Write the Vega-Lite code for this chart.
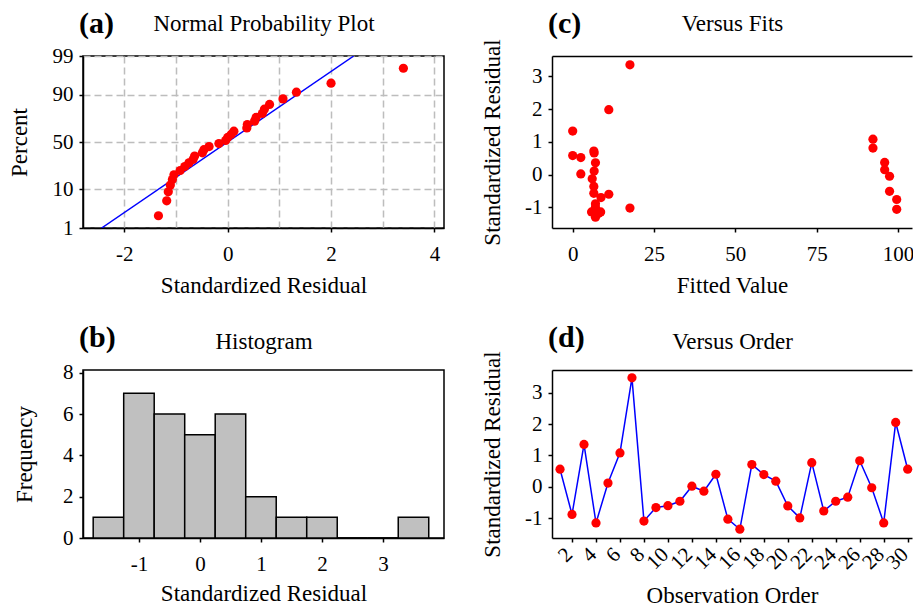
{
  "$schema": "https://vega.github.io/schema/vega-lite/v6.json",
  "padding": {"left": 7, "top": 8, "right": 0, "bottom": 0},
  "datasets": {
    "prob": [
      {"res": -1.34, "z": -1.9951}, {"res": -1.18, "z": -1.590}, {"res": -1.15, "z": -1.348},
      {"res": -1.11, "z": -1.1665}, {"res": -1.07, "z": -1.0169}, {"res": -1.04, "z": -0.8871},
      {"res": -0.92, "z": -0.7709}, {"res": -0.83, "z": -0.6642}, {"res": -0.75, "z": -0.5646},
      {"res": -0.67, "z": -0.4703}, {"res": -0.64, "z": -0.3800}, {"res": -0.49, "z": -0.2927},
      {"res": -0.46, "z": -0.2076}, {"res": -0.36, "z": -0.1240}, {"res": -0.17, "z": -0.0413},
      {"res": -0.04, "z": 0.0413}, {"res": 0.00, "z": 0.1240}, {"res": 0.07, "z": 0.2076},
      {"res": 0.12, "z": 0.2927}, {"res": 0.37, "z": 0.3800}, {"res": 0.38, "z": 0.4703},
      {"res": 0.52, "z": 0.5646}, {"res": 0.55, "z": 0.6642}, {"res": 0.67, "z": 0.7709},
      {"res": 0.71, "z": 0.8871}, {"res": 0.81, "z": 1.0169}, {"res": 1.07, "z": 1.1665},
      {"res": 1.33, "z": 1.348}, {"res": 2.00, "z": 1.590}, {"res": 3.40, "z": 1.9951}
    ],
    "probline": [{"res": -2.44, "z": -2.3263}, {"res": 2.44, "z": 2.3263}],
    "hist": [
      {"lo": -1.75, "hi": -1.25, "count": 1}, {"lo": -1.25, "hi": -0.75, "count": 7},
      {"lo": -0.75, "hi": -0.25, "count": 6}, {"lo": -0.25, "hi": 0.25, "count": 5},
      {"lo": 0.25, "hi": 0.75, "count": 6}, {"lo": 0.75, "hi": 1.25, "count": 2},
      {"lo": 1.25, "hi": 1.75, "count": 1}, {"lo": 1.75, "hi": 2.25, "count": 1},
      {"lo": 2.25, "hi": 2.75, "count": 0}, {"lo": 2.75, "hi": 3.25, "count": 0},
      {"lo": 3.25, "hi": 3.75, "count": 1}
    ],
    "fits": [
      {"fit": 0.0, "res": 1.33}, {"fit": 0.0, "res": 0.58}, {"fit": 2.5, "res": 0.52}, {"fit": 2.5, "res": 0.02},
      {"fit": 6.5, "res": 0.72}, {"fit": 6.6, "res": 0.66}, {"fit": 7.0, "res": 0.36}, {"fit": 6.6, "res": 0.11},
      {"fit": 6.0, "res": -0.13}, {"fit": 6.5, "res": -0.36}, {"fit": 6.5, "res": -0.57}, {"fit": 8.7, "res": -0.70},
      {"fit": 11.1, "res": -0.60}, {"fit": 11.1, "res": 1.98}, {"fit": 17.6, "res": 3.35}, {"fit": 17.6, "res": -1.02},
      {"fit": 7.0, "res": -0.89}, {"fit": 7.0, "res": -1.00}, {"fit": 5.8, "res": -1.14}, {"fit": 8.0, "res": -1.18},
      {"fit": 8.6, "res": -1.14}, {"fit": 7.0, "res": -1.30},
      {"fit": 92.3, "res": 1.08}, {"fit": 92.3, "res": 0.81}, {"fit": 95.9, "res": 0.37}, {"fit": 95.9, "res": 0.15},
      {"fit": 97.4, "res": -0.05}, {"fit": 97.4, "res": -0.51}, {"fit": 99.6, "res": -0.76}, {"fit": 99.6, "res": -1.06}
    ],
    "order": [
      {"obs": 1, "res": 0.56}, {"obs": 2, "res": -0.88}, {"obs": 3, "res": 1.35}, {"obs": 4, "res": -1.15},
      {"obs": 5, "res": 0.12}, {"obs": 6, "res": 1.08}, {"obs": 7, "res": 3.47}, {"obs": 8, "res": -1.09},
      {"obs": 9, "res": -0.66}, {"obs": 10, "res": -0.60}, {"obs": 11, "res": -0.46}, {"obs": 12, "res": 0.02},
      {"obs": 13, "res": -0.14}, {"obs": 14, "res": 0.40}, {"obs": 15, "res": -1.03}, {"obs": 16, "res": -1.35},
      {"obs": 17, "res": 0.71}, {"obs": 18, "res": 0.39}, {"obs": 19, "res": 0.18}, {"obs": 20, "res": -0.61},
      {"obs": 21, "res": -0.99}, {"obs": 22, "res": 0.77}, {"obs": 23, "res": -0.77}, {"obs": 24, "res": -0.46},
      {"obs": 25, "res": -0.33}, {"obs": 26, "res": 0.83}, {"obs": 27, "res": -0.03}, {"obs": 28, "res": -1.15},
      {"obs": 29, "res": 2.05}, {"obs": 30, "res": 0.56}
    ]
  },
  "columns": 2,
  "bounds": "flush",
  "spacing": {"row": 142, "column": 108},
  "concat": [
    {
      "width": 361, "height": 172,
      "title": {"text": "(a)", "dx": -4, "offset": -27},
      "encoding": {
        "y": {"field": "z", "type": "quantitative",
          "scale": {"domain": [-2.3263, 2.3263], "nice": false, "zero": false},
          "axis": {"title": "Percent", "values": [-2.3263, -1.2816, 0, 1.2816, 2.3263],
            "labelExpr": "datum.value > 2 ? '99' : datum.value > 1 ? '90' : datum.value > -1 ? '50' : datum.value > -2 ? '10' : '1'",
            "grid": true, "gridDash": [7, 4], "gridColor": "#BDBDBD", "gridWidth": 1.5, "titlePadding": 21}}
      },
      "layer": [
        {"data": {"name": "probline"},
          "mark": {"type": "line", "color": "#0000FF", "strokeWidth": 1.5, "clip": true},
          "encoding": {"x": {"field": "res", "type": "quantitative",
            "scale": {"domain": [-2.8, 4.186], "nice": false, "zero": false},
            "axis": {"orient": "top", "title": "Normal Probability Plot", "labels": false, "ticks": false, "domain": false,
              "grid": true, "values": [-2, -1, 0, 1, 2, 3, 4], "gridDash": [7, 4], "gridColor": "#BDBDBD", "gridWidth": 1.5, "titlePadding": 21}}}},
        {"data": {"name": "prob"},
          "mark": {"type": "circle", "color": "#FF0000", "size": 85, "opacity": 1},
          "encoding": {"x": {"field": "res", "type": "quantitative",
            "scale": {"domain": [-2.8, 4.186], "nice": false, "zero": false},
            "axis": {"orient": "bottom", "title": "Standardized Residual", "values": [-2, 0, 2, 4], "labelPadding": 11, "titlePadding": 10,
              "labelExpr": "replace(datum.label, '−', '-')"}}}}
      ],
      "resolve": {"axis": {"x": "independent"}}
    },
    {
      "width": 360, "height": 172,
      "view": {"stroke": null},
      "title": {"text": "(c)", "dx": -4, "offset": -27},
      "encoding": {
        "y": {"field": "res", "type": "quantitative",
          "scale": {"domain": [-1.63, 3.62], "nice": false, "zero": false},
          "axis": {"title": "Standardized Residual", "values": [-1, 0, 1, 2, 3], "titlePadding": 20,
            "labelExpr": "replace(datum.label, '−', '-')"}}
      },
      "layer": [
        {"data": {"values": [{}]}, "mark": {"type": "rule", "color": "#333333", "strokeWidth": 1.5}, "encoding": {"y": {"datum": 0}}},
        {"data": {"name": "fits"}, "transform": [{"filter": "datum.fit < 50"}],
          "mark": {"type": "circle", "color": "#FF0000", "size": 85, "opacity": 1},
          "encoding": {"x": {"field": "fit", "type": "quantitative",
            "scale": {"domain": [-6.36, 104.3], "nice": false, "zero": false},
            "axis": {"orient": "bottom", "title": "Fitted Value", "values": [0, 25, 50, 75, 100], "labelPadding": 11, "titlePadding": 10}}}},
        {"data": {"name": "fits"}, "transform": [{"filter": "datum.fit >= 50"}],
          "mark": {"type": "circle", "color": "#FF0000", "size": 85, "opacity": 1},
          "encoding": {"x": {"field": "fit", "type": "quantitative",
            "scale": {"domain": [-6.36, 104.3], "nice": false, "zero": false},
            "axis": {"orient": "top", "title": "Versus Fits", "labels": false, "ticks": false, "domain": true, "titlePadding": 21}}}}
      ],
      "resolve": {"axis": {"x": "independent"}}
    },
    {
      "width": 361, "height": 168,
      "title": {"text": "(b)", "dx": -4, "offset": -23},
      "encoding": {
        "y": {"field": "count", "type": "quantitative",
          "scale": {"domain": [0, 8.13], "nice": false},
          "axis": {"title": "Frequency", "values": [0, 2, 4, 6, 8], "titlePadding": 26}},
        "y2": {"datum": 0},
        "x2": {"field": "hi"}
      },
      "layer": [
        {"data": {"name": "hist"}, "transform": [{"filter": "datum.count > 0"}],
          "mark": {"type": "rect", "fill": "#C0C0C0", "stroke": "black", "strokeWidth": 1.5},
          "encoding": {"x": {"field": "lo", "type": "quantitative",
            "scale": {"domain": [-1.917, 4.0], "nice": false, "zero": false},
            "axis": {"orient": "bottom", "title": "Standardized Residual", "values": [-1, 0, 1, 2, 3], "labelPadding": 11, "titlePadding": 8,
              "labelExpr": "replace(datum.label, '−', '-')"}}}},
        {"data": {"name": "hist"}, "transform": [{"filter": "datum.count == 0"}],
          "mark": {"type": "rect", "fill": "#C0C0C0", "stroke": "black", "strokeWidth": 1.5},
          "encoding": {"x": {"field": "lo", "type": "quantitative",
            "scale": {"domain": [-1.917, 4.0], "nice": false, "zero": false},
            "axis": {"orient": "top", "title": "Histogram", "labels": false, "ticks": false, "domain": false, "titlePadding": 17}}}}
      ],
      "resolve": {"axis": {"x": "independent"}}
    },
    {
      "width": 360, "height": 168,
      "view": {"stroke": null},
      "title": {"text": "(d)", "dx": -4, "offset": -23},
      "encoding": {
        "y": {"field": "res", "type": "quantitative",
          "scale": {"domain": [-1.63, 3.72], "nice": false, "zero": false},
          "axis": {"title": "Standardized Residual", "values": [-1, 0, 1, 2, 3], "titlePadding": 20,
            "labelExpr": "replace(datum.label, '−', '-')"}}
      },
      "layer": [
        {"data": {"values": [{}]}, "mark": {"type": "rule", "color": "#333333", "strokeWidth": 1.5}, "encoding": {"y": {"datum": 0}}},
        {"data": {"name": "order"},
          "mark": {"type": "line", "color": "#0000FF", "strokeWidth": 1.5},
          "encoding": {"x": {"field": "obs", "type": "quantitative",
            "scale": {"domain": [0.33, 30.36], "nice": false, "zero": false},
            "axis": {"orient": "top", "title": "Versus Order", "labels": false, "ticks": false, "domain": true, "titlePadding": 17}}}},
        {"data": {"name": "order"},
          "mark": {"type": "circle", "color": "#FF0000", "size": 85, "opacity": 1},
          "encoding": {"x": {"field": "obs", "type": "quantitative",
            "scale": {"domain": [0.33, 30.36], "nice": false, "zero": false},
            "axis": {"orient": "bottom", "title": "Observation Order", "values": [2, 4, 6, 8, 10, 12, 14, 16, 18, 20, 22, 24, 26, 28, 30],
              "labelAngle": -45, "labelAlign": "right", "labelBaseline": "middle", "labelOverlap": false, "labelOffset": -3,
              "labelPadding": 9, "titlePadding": 12}}}}
      ],
      "resolve": {"axis": {"x": "independent"}}
    }
  ],
  "config": {
    "font": "Liberation Serif",
    "view": {"stroke": "black", "strokeWidth": 1.5},
    "axis": {"labelFont": "Liberation Serif", "titleFont": "Liberation Serif", "labelFontSize": 21, "titleFontSize": 23,
      "titleFontWeight": "normal", "labelColor": "black", "titleColor": "black", "domainColor": "black", "domainWidth": 1.5,
      "tickColor": "black", "tickWidth": 1.5, "tickSize": 4, "grid": false, "labelPadding": 6},
    "title": {"font": "Liberation Serif", "fontSize": 30, "fontWeight": "bold", "color": "black", "anchor": "start", "frame": "group"}
  }
}
